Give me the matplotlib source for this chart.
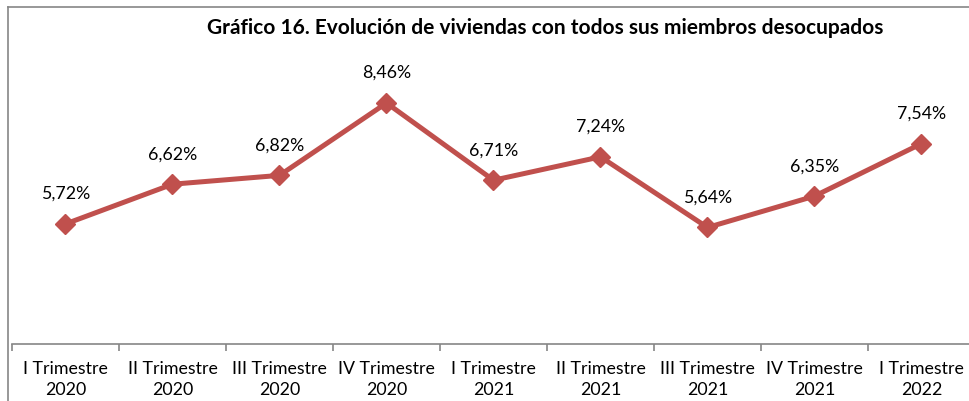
import matplotlib
matplotlib.use("Agg")
import matplotlib.pyplot as plt
from matplotlib.lines import Line2D

categories = ["I Trimestre\n2020", "II Trimestre\n2020", "III Trimestre\n2020", "IV Trimestre\n2020",
              "I Trimestre\n2021", "II Trimestre\n2021", "III Trimestre\n2021", "IV Trimestre\n2021",
              "I Trimestre\n2022"]
values = [5.72, 6.62, 6.82, 8.46, 6.71, 7.24, 5.64, 6.35, 7.54]
title = "Gráfico 16. Evolución de viviendas con todos sus miembros desocupados"

plt.rcParams['font.family'] = ['Lato', 'DejaVu Sans']
W, H = 970, 401
fig = plt.figure(figsize=(W/100, H/100), dpi=100)
ax = fig.add_axes([12/W, 1-344/H, 963/W, (344-35)/H])

color = "#C0504D"
x = list(range(len(values)))
ax.plot(x, values, color=color, lw=3.6, marker="D", markersize=10, solid_joinstyle="miter", zorder=3)
for xi, v in zip(x, values):
    ax.annotate(f"{v:.2f}%".replace(".", ","), (xi, v), xytext=(0, 21.5), textcoords="offset points",
                ha="center", va="center", fontsize=12.8, color="#000000")

ax.set_xlim(-0.5, len(values)-0.5)
ax.set_ylim(3, 10)
ax.set_yticks([])
for s in ["top", "right", "left"]:
    ax.spines[s].set_visible(False)
ax.spines["bottom"].set_color("#868686")
ax.spines["bottom"].set_linewidth(1.2)
ax.set_xticks(x)
ax.set_xticklabels(categories, fontsize=12.8, linespacing=1.38)
ax.tick_params(axis="x", which="major", length=0, pad=12)
ax.set_xticks([i-0.5 for i in range(len(values)+1)], minor=True)
ax.tick_params(axis="x", which="minor", length=5, color="#868686", width=1.2, direction="out")

fig.text(545/W, 1-28/H, title, ha="center", va="center", fontsize=15, fontweight="bold")

fig.add_artist(Line2D([8/W, 8/W], [0, 1-7/H], color="#868686", lw=1.2, transform=fig.transFigure))
fig.add_artist(Line2D([8/W, 1], [1-7/H, 1-7/H], color="#868686", lw=1.2, transform=fig.transFigure))

fig.savefig("out.png", dpi=100)
